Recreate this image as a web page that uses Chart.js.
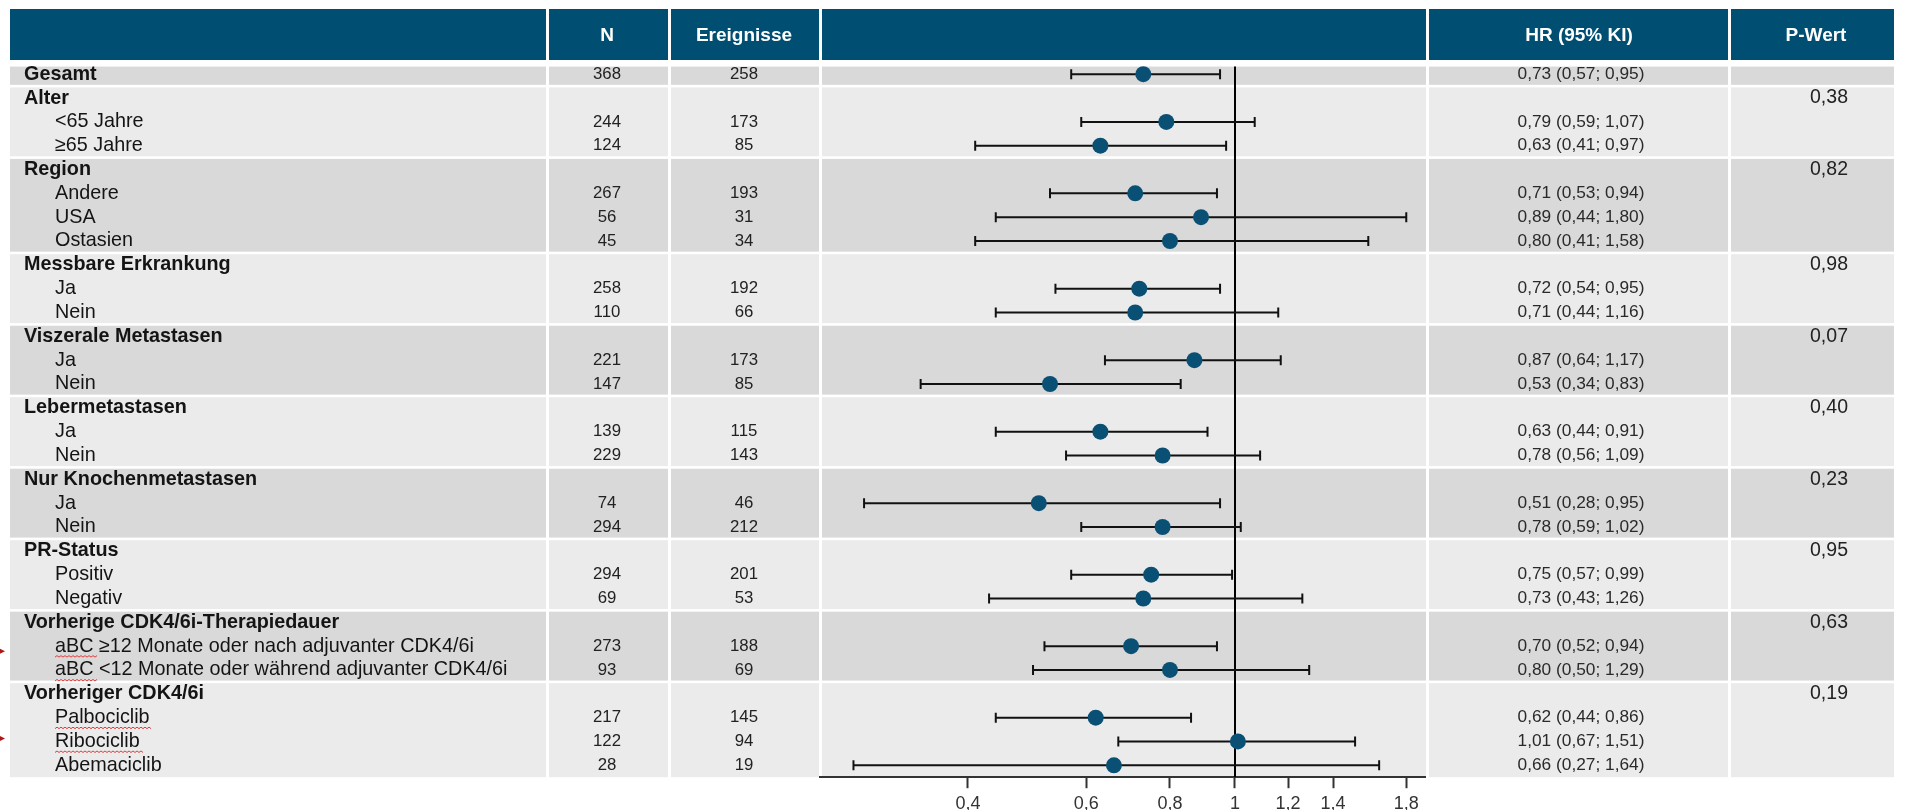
<!DOCTYPE html>
<html lang="de">
<head>
<meta charset="utf-8">
<title>Forest-Plot Subgruppenanalyse</title>
<script src="https://cdn.jsdelivr.net/npm/chart.js@4.4.1/dist/chart.umd.min.js"></script>
<style>
  html, body { margin: 0; padding: 0; background: #ffffff; }
  #wrap { position: relative; width: 1908px; height: 810px; }
</style>
</head>
<body>
<div id="wrap"><canvas id="forest"></canvas></div>
<script>
// ---- Daten ----
const rowLabels = [
  'Gesamt',
  'Alter', '<65 Jahre', '\u226565 Jahre',
  'Region', 'Andere', 'USA', 'Ostasien',
  'Messbare Erkrankung', 'Ja', 'Nein',
  'Viszerale Metastasen', 'Ja', 'Nein',
  'Lebermetastasen', 'Ja', 'Nein',
  'Nur Knochenmetastasen', 'Ja', 'Nein',
  'PR-Status', 'Positiv', 'Negativ',
  'Vorherige CDK4/6i-Therapiedauer', 'aBC \u226512 Monate oder nach adjuvanter CDK4/6i', 'aBC <12 Monate oder w\u00e4hrend adjuvanter CDK4/6i',
  'Vorheriger CDK4/6i', 'Palbociclib', 'Ribociclib', 'Abemaciclib'
];
// 0 = Gruppenzeile (fett), 1 = Untergruppe (eingerueckt)
const rowLevel = [0, 0,1,1, 0,1,1,1, 0,1,1, 0,1,1, 0,1,1, 0,1,1, 0,1,1, 0,1,1, 0,1,1,1];

const nPatients = [368, null,244,124, null,267,56,45, null,258,110, null,221,147, null,139,229, null,74,294, null,294,69, null,273,93, null,217,122,28];
const nEvents   = [258, null,173,85,  null,193,31,34, null,192,66,  null,173,85,  null,115,143, null,46,212, null,201,53, null,188,69, null,145,94,19];

const hazardRatio = [0.73, null,0.79,0.63, null,0.71,0.89,0.80, null,0.72,0.71, null,0.87,0.53, null,0.63,0.78, null,0.51,0.78, null,0.75,0.73, null,0.70,0.80, null,0.62,1.01,0.66];
const ciLower     = [0.57, null,0.59,0.41, null,0.53,0.44,0.41, null,0.54,0.44, null,0.64,0.34, null,0.44,0.56, null,0.28,0.59, null,0.57,0.43, null,0.52,0.50, null,0.44,0.67,0.27];
const ciUpper     = [0.95, null,1.07,0.97, null,0.94,1.80,1.58, null,0.95,1.16, null,1.17,0.83, null,0.91,1.09, null,0.95,1.02, null,0.99,1.26, null,0.94,1.29, null,0.86,1.51,1.64];

// Interaktions-p-Werte, jeweils auf der Zeile der Gruppe
const pValues = [null, 0.38,null,null, 0.82,null,null,null, 0.98,null,null, 0.07,null,null, 0.40,null,null, 0.23,null,null, 0.95,null,null, 0.63,null,null, 0.19,null,null,null];

const headerLabels = ['', 'N', 'Ereignisse', '', 'HR (95% KI)', 'P-Wert'];
const axisTicks = [0.4, 0.6, 0.8, 1, 1.2, 1.4, 1.8];

// ---- Layout / Stil ----
const FONT = "'Liberation Sans', Arial, Helvetica, sans-serif";
const HEADER_BG = '#004f73';
const BAND_DARK = '#d9d9d9';
const BAND_LIGHT = '#ebebeb';
const DOT_COLOR = '#0a4f74';
const TEXT_COLOR = '#141414';
const COLS = [
  { x0: 10,   x1: 546,  cx: 0 },
  { x0: 549,  x1: 668,  cx: 607 },
  { x0: 671,  x1: 819,  cx: 744 },
  { x0: 822,  x1: 1426, cx: 1124 },
  { x0: 1429, x1: 1728, cx: 1579 },
  { x0: 1731, x1: 1894, cx: 1816 }
];
const HEADER_TOP = 9, HEADER_BOTTOM = 60;
const P_X = 1829;

const fmt = v => v.toFixed(2).replace('.', ',');

// Gruppen aus den Zeilenebenen ableiten
const groups = [];
rowLevel.forEach((lvl, i) => {
  if (lvl === 0) groups.push({ first: i, last: i });
  else groups[groups.length - 1].last = i;
});

// ---- Datensaetze ----
const datasets = [];
// Punktschaetzer
datasets.push({
  type: 'line',
  label: 'HR',
  data: hazardRatio.map((v, i) => v === null ? null : { x: v, y: i }).filter(p => p),
  showLine: false,
  pointRadius: 8,
  pointHoverRadius: 8,
  pointBackgroundColor: DOT_COLOR,
  pointBorderWidth: 0,
  order: 0
});
// Konfidenzintervalle mit Endstrichen
hazardRatio.forEach((v, i) => {
  if (v === null) return;
  datasets.push({
    type: 'line',
    label: 'KI ' + rowLabels[i],
    data: [{ x: ciLower[i], y: i }, { x: ciUpper[i], y: i }],
    borderColor: '#111111',
    borderWidth: 2,
    pointStyle: 'line',
    pointRotation: 90,
    pointRadius: 5,
    pointHoverRadius: 5,
    pointBorderColor: '#111111',
    pointBorderWidth: 2,
    order: 1
  });
});
// Referenzlinie HR = 1
datasets.push({
  type: 'line',
  label: 'HR = 1',
  data: [{ x: 1, y: -0.32 }, { x: 1, y: 29.5 }],
  borderColor: '#000000',
  borderWidth: 2,
  pointRadius: 0,
  order: 2
});

// ---- Tabelle, Kopfzeile und Baender ----
const tablePlugin = {
  id: 'forestTable',
  beforeDraw(chart) {
    const { ctx } = chart;
    const ys = chart.scales.y;
    ctx.save();
    ctx.fillStyle = HEADER_BG;
    COLS.forEach(c => ctx.fillRect(c.x0, HEADER_TOP, c.x1 - c.x0, HEADER_BOTTOM - HEADER_TOP));
    groups.forEach((g, k) => {
      const top = k === 0 ? ys.getPixelForValue(-0.32) : ys.getPixelForValue(g.first - 0.5) + 1.3;
      const bottom = ys.getPixelForValue(g.last + 0.5) - (k === groups.length - 1 ? 0 : 1.3);
      ctx.fillStyle = k % 2 === 0 ? BAND_DARK : BAND_LIGHT;
      COLS.forEach(c => ctx.fillRect(c.x0, top, c.x1 - c.x0, bottom - top));
    });
    ctx.restore();
  },
  afterDraw(chart) {
    const { ctx } = chart;
    const ys = chart.scales.y;
    ctx.save();
    ctx.textBaseline = 'middle';

    // Kopfzeile
    ctx.fillStyle = '#ffffff';
    ctx.font = 'bold 19px ' + FONT;
    ctx.textAlign = 'center';
    headerLabels.forEach((t, k) => { if (t) ctx.fillText(t, COLS[k].cx, (HEADER_TOP + HEADER_BOTTOM) / 2 + 1); });

    rowLabels.forEach((label, i) => {
      const y = ys.getPixelForValue(i);
      ctx.fillStyle = TEXT_COLOR;
      ctx.textAlign = 'left';
      if (rowLevel[i] === 0) {
        ctx.font = 'bold 19.8px ' + FONT;
        ctx.fillText(label, 24, y);
      } else {
        ctx.font = '19.8px ' + FONT;
        ctx.fillText(label, 55, y);
      }
      ctx.textAlign = 'center';
      ctx.fillStyle = '#222222';
      ctx.font = '16.8px ' + FONT;
      if (nPatients[i] !== null) ctx.fillText(String(nPatients[i]), COLS[1].cx, y);
      if (nEvents[i] !== null) ctx.fillText(String(nEvents[i]), COLS[2].cx, y);
      if (hazardRatio[i] !== null) {
        ctx.font = '17.3px ' + FONT;
        ctx.fillStyle = '#2a2a2a';
        ctx.fillText(fmt(hazardRatio[i]) + ' (' + fmt(ciLower[i]) + '; ' + fmt(ciUpper[i]) + ')', 1581, y);
      }
      if (pValues[i] !== null) {
        ctx.font = '19.5px ' + FONT;
        ctx.fillStyle = '#222222';
        ctx.fillText(fmt(pValues[i]), P_X, y);
      }
    });

    // Rechtschreibmarkierungen der Praesentationsvorlage
    ctx.strokeStyle = '#e23b3b';
    ctx.lineWidth = 1;
    const squiggle = (x0, x1, y) => {
      ctx.beginPath();
      ctx.moveTo(x0, y);
      let up = true;
      for (let x = x0 + 2; x <= x1; x += 2) { ctx.lineTo(x, up ? y - 1.5 : y); up = !up; }
      ctx.stroke();
    };
    squiggle(55, 97, ys.getPixelForValue(24) + 11);
    squiggle(55, 97, ys.getPixelForValue(25) + 11);
    squiggle(55, 151, ys.getPixelForValue(27) + 11);
    squiggle(55, 144, ys.getPixelForValue(28) + 11);
    ctx.fillStyle = '#b01818';
    [ys.getPixelForValue(24) + 5, ys.getPixelForValue(28) - 3].forEach(y => {
      ctx.beginPath();
      ctx.moveTo(0, y - 2.5); ctx.lineTo(5, y); ctx.lineTo(0, y + 2.5); ctx.closePath(); ctx.fill();
    });
    ctx.restore();
  }
};

new Chart(document.getElementById('forest'), {
  type: 'line',
  data: { datasets },
  plugins: [tablePlugin],
  options: {
    responsive: true,
    maintainAspectRatio: false,
    animation: false,
    events: [],
    layout: { padding: { left: 820, right: 483, top: 62.3, bottom: 0 } },
    plugins: { legend: { display: false }, tooltip: { enabled: false } },
    scales: {
      x: {
        type: 'logarithmic',
        bounds: 'data',
        min: 0.2407,
        max: 1.9195,
        afterBuildTicks: s => { s.ticks = axisTicks.map(v => ({ value: v })); },
        afterFit: s => { s.height = 32.8; },
        grid: { drawOnChartArea: false, drawTicks: true, tickLength: 11, tickWidth: 2, tickColor: '#333333' },
        border: { display: true, color: '#333333', width: 2 },
        ticks: {
          autoSkip: false,
          maxRotation: 0,
          padding: 5,
          color: '#333333',
          font: { family: FONT, size: 18 },
          callback: v => String(v).replace('.', ',')
        }
      },
      y: { type: 'linear', reverse: true, min: -0.5, max: 29.5, display: false }
    }
  }
});
</script>
</body>
</html>
